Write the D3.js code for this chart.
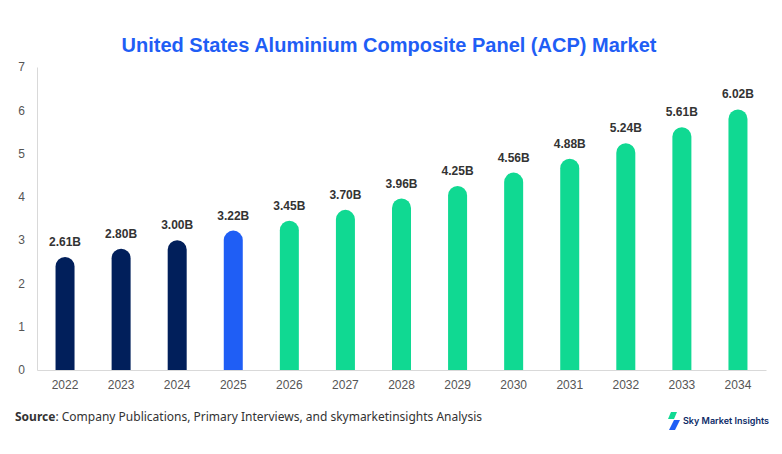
<!DOCTYPE html>
<html>
<head>
<meta charset="utf-8">
<script src="https://cdn.jsdelivr.net/npm/d3@7"></script>
<style>
  body { margin: 0; background: #fff; }
  svg { display: block; }
</style>
</head>
<body>
<svg id="chart"></svg>
<script>
// data
const YEARS = ["2022", "2023", "2024", "2025", "2026", "2027", "2028", "2029", "2030", "2031", "2032", "2033", "2034"];
const VALUES = [2.61, 2.80, 3.00, 3.22, 3.45, 3.70, 3.96, 4.25, 4.56, 4.88, 5.24, 5.61, 6.02];
const PHASE = ["hist", "hist", "hist", "base", "fc", "fc", "fc", "fc", "fc", "fc", "fc", "fc", "fc"];
const Y_TICKS = [0, 1, 2, 3, 4, 5, 6, 7];

const WIDTH = 782;
const HEIGHT = 454;
const margin = { top: 67, right: 16, bottom: 84, left: 37 };

const FONT = "'Liberation Sans', Arial, sans-serif";
const colors = { hist: "#011f5b", base: "#1f5ef5", fc: "#10d992" };

const svg = d3.select("#chart")
    .attr("width", WIDTH)
    .attr("height", HEIGHT);

// title
svg.append("text")
    .attr("x", 389)
    .attr("y", 52)
    .attr("text-anchor", "middle")
    .style("font-family", FONT)
    .style("font-weight", "bold")
    .style("font-size", "20px")
    .style("fill", "#1f5ef5")
    .text("United States Aluminium Composite Panel (ACP) Market");

const x = d3.scaleBand()
    .domain(YEARS)
    .range([margin.left, WIDTH - margin.right]);

const y = d3.scaleLinear()
    .domain([0, 7])
    .range([HEIGHT - margin.bottom, margin.top]);

// axes
const xAxis = svg.append("g")
    .attr("transform", "translate(0," + y(0) + ")")
    .call(d3.axisBottom(x).tickSize(0).tickPadding(10));
xAxis.select(".domain").attr("stroke", "#d9d9d9");

const yAxis = svg.append("g")
    .attr("transform", "translate(" + margin.left + ",0)")
    .call(d3.axisLeft(y).tickValues(Y_TICKS).tickFormat(d3.format("d")).tickSize(0).tickPadding(12));
yAxis.select(".domain").attr("stroke", "#d9d9d9");

svg.selectAll(".tick text")
    .style("font-family", FONT)
    .style("font-size", "12px")
    .style("fill", "#555");

// bars with rounded tops
const barW = 19;
const r = barW / 2;

function barPath(d, i) {
    const cx = x(YEARS[i]) + x.bandwidth() / 2;
    const x0 = cx - r, x1 = cx + r;
    const top = y(d), bottom = y(0);
    return "M" + x0 + "," + bottom +
        "L" + x0 + "," + (top + r) +
        "A" + r + "," + r + " 0 0 1 " + x1 + "," + (top + r) +
        "L" + x1 + "," + bottom + "Z";
}

svg.selectAll(".bar")
    .data(VALUES)
    .enter()
    .append("path")
    .attr("class", "bar")
    .attr("d", barPath)
    .attr("fill", (d, i) => colors[PHASE[i]]);

svg.selectAll(".val")
    .data(VALUES)
    .enter()
    .append("text")
    .attr("class", "val")
    .attr("x", (d, i) => x(YEARS[i]) + x.bandwidth() / 2)
    .attr("y", d => y(d) - 11)
    .attr("text-anchor", "middle")
    .style("font-family", FONT)
    .style("font-weight", "bold")
    .style("font-size", "12px")
    .style("fill", "#333")
    .text(d => d.toFixed(2) + "B");

// source
const src = svg.append("text")
    .attr("x", 15)
    .attr("y", 421)
    .style("font-family", "'Noto Sans', sans-serif")
    .style("font-size", "12px")
    .style("fill", "#333");
src.append("tspan").style("font-weight", "bold").text("Source");
src.append("tspan").text(": Company Publications, Primary Interviews, and skymarketinsights Analysis");

// logo
const logo = svg.append("g").attr("transform", "translate(668,412)");
logo.append("path")
    .attr("d", "M3,0 L9,0 L6,7 L0,7 Z")
    .attr("fill", "#10d992");
logo.append("path")
    .attr("d", "M6,8 L12,8 L7,18 L1,18 Z")
    .attr("fill", "#1f5ef5");
logo.append("text")
    .attr("x", 15)
    .attr("y", 12)
    .style("font-family", "Inter, sans-serif")
    .style("font-weight", "600")
    .style("font-size", "9px")
    .style("fill", "#0b2a66")
    .text("Sky Market Insights");
</script>
</body>
</html>
